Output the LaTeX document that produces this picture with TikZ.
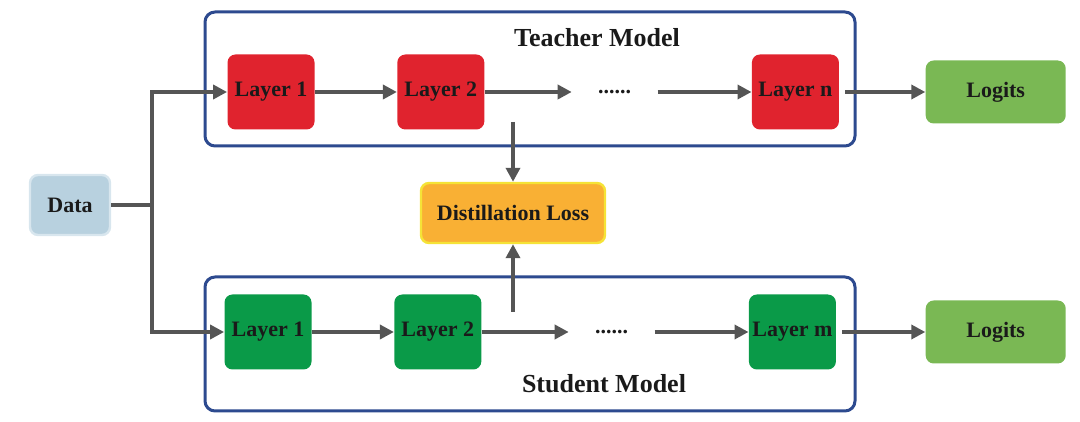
\documentclass[tikz,border=0pt]{standalone}
\usepackage{fontspec}
\setmainfont{Liberation Serif}
\usepackage{xcolor}
\usetikzlibrary{arrows.meta, positioning, calc}
\definecolor{frameblue}{HTML}{2D4A8F}
\definecolor{teacherred}{HTML}{E0232E}
\definecolor{studentgreen}{HTML}{0A9A48}
\definecolor{logitsgreen}{HTML}{7AB854}
\definecolor{datafill}{HTML}{B8D1DF}
\definecolor{databorder}{HTML}{D8E6EE}
\definecolor{lossfill}{HTML}{F9B034}
\definecolor{lossborder}{HTML}{F5E337}
\definecolor{arrowgray}{HTML}{555555}
\definecolor{textdark}{HTML}{1A1A1A}

\begin{document}
\begin{tikzpicture}[
    node distance=41pt,
    layer/.style={rectangle, rounded corners=4pt, inner sep=0pt, minimum width=43.5pt, minimum height=37.5pt, text=textdark, font=\fontsize{11}{13}\selectfont\bfseries},
    teacherlayer/.style={layer, fill=teacherred},
    studentlayer/.style={layer, fill=studentgreen},
    logitsbox/.style={layer, fill=logitsgreen, minimum width=70pt, minimum height=31.5pt},
    databox/.style={layer, fill=datafill, draw=databorder, line width=1.2pt, minimum width=40pt, minimum height=30pt},
    lossbox/.style={layer, fill=lossfill, draw=lossborder, line width=1.2pt, minimum width=92pt, minimum height=30pt},
    dotsbox/.style={inner sep=0pt, minimum width=42.5pt, minimum height=10pt, text=textdark, font=\fontsize{11}{13}\selectfont\bfseries},
    modelframe/.style={rectangle, draw=frameblue, line width=1.5pt, rounded corners=5pt, minimum width=325pt, minimum height=67pt},
    title/.style={text=textdark, font=\fontsize{13}{15}\selectfont\bfseries},
    line/.style={draw=arrowgray, line width=2pt},
    arrow/.style={line, -{Triangle[length=7pt, width=7pt]}}
]
    \useasboundingbox (0,0) rectangle (540pt,211pt);

    % Frames
    \node[modelframe] (teacher) at (265pt,171.5pt) {};
    \node[modelframe] (student) at (265pt,39pt) {};
    \node[title] (tname) at (298.5pt,192pt) {Teacher Model};
    \node[title] (sname) at (302pt,19pt) {Student Model};

    % Teacher row
    \node[teacherlayer] (t1) at (135.5pt,165pt) {Layer 1};
    \node[teacherlayer, right=41pt of t1] (t2) {Layer 2};
    \node[dotsbox, right=43.5pt of t2] (tdots) {......};
    \node[teacherlayer, right=47pt of tdots] (tn) {Layer n};
    \node[logitsbox, right=43pt of tn] (tlogits) {Logits};

    % Student row
    \node[studentlayer] (s1) at (134pt,45pt) {Layer 1};
    \node[studentlayer, right=41pt of s1] (s2) {Layer 2};
    \node[dotsbox, right=43.5pt of s2] (sdots) {......};
    \node[studentlayer, right=47pt of sdots] (sm) {Layer m};
    \node[logitsbox, right=44.5pt of sm] (slogits) {Logits};

    % Data and loss
    \node[databox] (data) at (35pt,108.5pt) {Data};
    \node[lossbox] (loss) at (256.5pt,104.5pt) {Distillation Loss};
    \coordinate (split) at (76pt,108.5pt);
    \coordinate (tfeat) at (256.5pt,150pt);
    \coordinate (sfeat) at (256.5pt,55pt);

    % Connections
    \draw[line] (data.east) -- (split);
    \draw[arrow] (split) |- (t1.west);
    \draw[arrow] (split) |- (s1.west);
    \draw[arrow] (t1) -- (t2);
    \draw[arrow] (t2) -- (tdots);
    \draw[arrow] (tdots) -- (tn);
    \draw[arrow, shorten <=3pt] (tn) -- (tlogits);
    \draw[arrow] (s1) -- (s2);
    \draw[arrow] (s2) -- (sdots);
    \draw[arrow] (sdots) -- (sm);
    \draw[arrow, shorten <=3pt] (sm) -- (slogits);
    \draw[arrow] (tfeat) -- (loss.north);
    \draw[arrow] (sfeat) -- (loss.south);
\end{tikzpicture}
\end{document}
